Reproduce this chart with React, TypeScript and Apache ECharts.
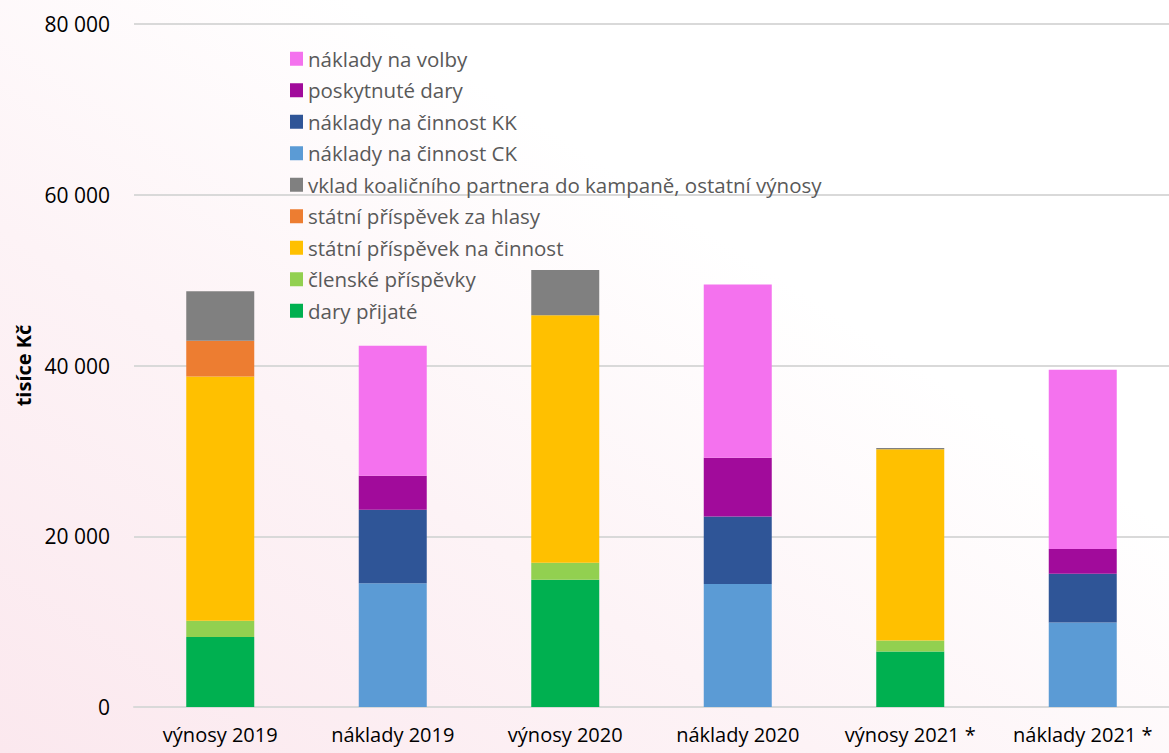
import React, { useEffect, useRef } from "react";
import * as echarts from "echarts";

const categories = ["výnosy 2019", "náklady 2019", "výnosy 2020", "náklady 2020", "výnosy 2021 *", "náklady 2021 *"];

const daryPrijate = [8200, 0, 14900, 0, 6500, 0];
const clenskePrispevky = [1900, 0, 2000, 0, 1300, 0];
const statniNaCinnost = [28600, 0, 29000, 0, 22400, 0];
const statniZaHlasy = [4200, 0, 0, 0, 0, 0];
const vkladOstatni = [5800, 0, 5300, 0, 150, 0];
const nakladyCK = [0, 14500, 0, 14400, 0, 9900];
const nakladyKK = [0, 8600, 0, 7900, 0, 5700];
const poskytnuteDary = [0, 4000, 0, 6900, 0, 2900];
const nakladyVolby = [0, 15200, 0, 20300, 0, 21000];

const seriesDefs = [
  { name: "dary přijaté", data: daryPrijate, color: "#00B050" },
  { name: "členské příspěvky", data: clenskePrispevky, color: "#92D050" },
  { name: "státní příspěvek na činnost", data: statniNaCinnost, color: "#FFC000" },
  { name: "státní příspěvek za hlasy", data: statniZaHlasy, color: "#ED7D31" },
  { name: "vklad koaličního partnera do kampaně, ostatní výnosy", data: vkladOstatni, color: "#808080" },
  { name: "náklady na činnost CK", data: nakladyCK, color: "#5B9BD5" },
  { name: "náklady na činnost KK", data: nakladyKK, color: "#2F5597" },
  { name: "poskytnuté dary", data: poskytnuteDary, color: "#A10B9B" },
  { name: "náklady na volby", data: nakladyVolby, color: "#F472EE" },
];

const yTicks = [0, 20000, 40000, 60000, 80000];

export default function App() {
  const ref = useRef<HTMLDivElement>(null);
  useEffect(() => {
    if (!ref.current) return;
    const chart = echarts.init(ref.current, undefined, { renderer: "svg" });
    const font = "'Open Sans', 'Noto Sans', sans-serif";
    chart.setOption({
      animation: false,
      backgroundColor: "transparent",
      textStyle: { fontFamily: font },
      grid: { left: 134, right: 0, top: 24, bottom: 46, containLabel: false },
      legend: {
        orient: "vertical",
        left: 285,
        top: 42,
        itemWidth: 13,
        itemHeight: 14,
        itemGap: 8,
        icon: "rect",
        textStyle: { fontSize: 20.5, color: "#595959", fontFamily: font, padding: [0, 0, 0, 0], lineHeight: 23.5 },
        data: seriesDefs.map((s) => s.name).reverse(),
      },
      xAxis: {
        type: "category",
        data: categories,
        axisLine: { show: true, lineStyle: { color: "#D9D9D9", width: 2 } },
        axisTick: { show: false },
        axisLabel: { fontSize: 20, color: "#000", margin: 17, fontFamily: font, interval: 0, hideOverlap: false },
      },
      yAxis: {
        type: "value",
        min: 0,
        max: 80000,
        interval: 20000,
        name: "tisíce Kč",
        nameLocation: "middle",
        nameRotate: 90,
        nameGap: 100,
        nameTextStyle: { fontSize: 20, fontWeight: "bold", color: "#000", fontFamily: font },
        axisLine: { show: false },
        axisTick: { show: false },
        splitLine: { lineStyle: { color: "#D9D9D9", width: 2 } },
        axisLabel: {
          fontSize: 21,
          color: "#000",
          margin: 24,
          fontFamily: font,
          formatter: (v: number) =>
            yTicks.includes(v) ? String(v).replace(/\B(?=(\d{3})+(?!\d))/g, " ") : "",
        },
      },
      series: seriesDefs.map((s) => ({
        name: s.name,
        type: "bar",
        stack: "total",
        barWidth: 68,
        data: s.data,
        itemStyle: { color: s.color },
      })),
    });
    return () => chart.dispose();
  }, []);
  return (
    <div
      style={{
        position: "fixed",
        left: 0,
        top: 0,
        width: 1169,
        height: 753,
        background:
          "linear-gradient(to top right, #fbe8ee 0%, #fdf3f6 35%, #ffffff 65%)",
      }}
    >
      <div ref={ref} style={{ width: 1169, height: 753 }} />
    </div>
  );
}
